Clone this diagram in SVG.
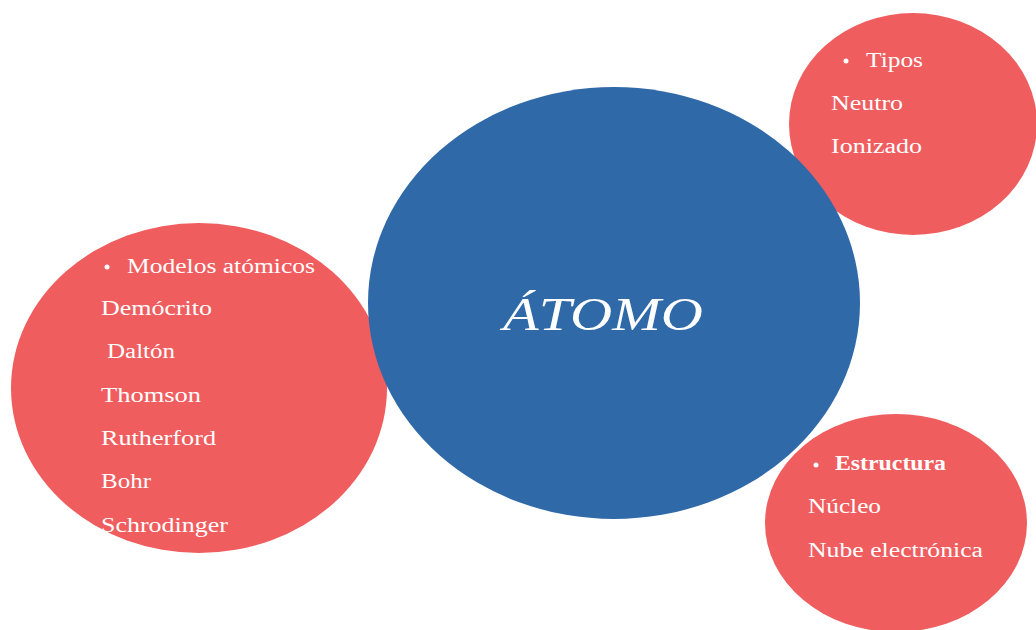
<svg xmlns="http://www.w3.org/2000/svg" width="1036" height="630" viewBox="0 0 1036 630">
<style>
.red{fill:#EF5D5F}
.blue{fill:#2F69A8}
.t{font-family:"Liberation Serif","Times New Roman",serif;font-size:20px;fill:#FFFFFF}
.b{font-weight:bold}
.title{font-family:"Liberation Serif","Times New Roman",serif;font-size:46px;font-style:italic;fill:#FFFFFF}
</style>
<rect width="1036" height="630" fill="#FFFFFF"/>
<g id="tipos">
<ellipse class="red" cx="913" cy="124" rx="124" ry="111"/>
<circle cx="846" cy="61" r="2.5" fill="#FFFFFF"/>
<text class="t" x="866" y="67" textLength="57" lengthAdjust="spacingAndGlyphs">Tipos</text>
<text class="t" x="831" y="110" textLength="72" lengthAdjust="spacingAndGlyphs">Neutro</text>
<text class="t" x="831" y="153" textLength="91" lengthAdjust="spacingAndGlyphs">Ionizado</text>
</g>
<g id="modelos">
<ellipse class="red" cx="199" cy="388" rx="188" ry="165"/>
<circle cx="107" cy="267" r="2.5" fill="#FFFFFF"/>
<text class="t" x="127" y="273" textLength="188" lengthAdjust="spacingAndGlyphs">Modelos atómicos</text>
<text class="t" x="101" y="315" textLength="111" lengthAdjust="spacingAndGlyphs">Demócrito</text>
<text class="t" x="107" y="358" textLength="68" lengthAdjust="spacingAndGlyphs">Daltón</text>
<text class="t" x="101" y="402" textLength="100" lengthAdjust="spacingAndGlyphs">Thomson</text>
<text class="t" x="101" y="445" textLength="115" lengthAdjust="spacingAndGlyphs">Rutherford</text>
<text class="t" x="101" y="488" textLength="50" lengthAdjust="spacingAndGlyphs">Bohr</text>
<text class="t" x="101" y="532" textLength="127" lengthAdjust="spacingAndGlyphs">Schrodinger</text>
</g>
<g id="estructura">
<ellipse class="red" cx="896" cy="523" rx="131" ry="109"/>
<circle cx="816" cy="465" r="2.5" fill="#FFFFFF"/>
<text class="t b" x="835" y="470" textLength="111" lengthAdjust="spacingAndGlyphs">Estructura</text>
<text class="t" x="808" y="513" textLength="73" lengthAdjust="spacingAndGlyphs">Núcleo</text>
<text class="t" x="808" y="557" textLength="175" lengthAdjust="spacingAndGlyphs">Nube electrónica</text>
</g>
<g id="atomo">
<ellipse class="blue" cx="614" cy="303" rx="246" ry="216"/>
<text class="title" x="503" y="330" textLength="200" lengthAdjust="spacingAndGlyphs">ÁTOMO</text>
</g>
<g id="connectors"/>
</svg>
